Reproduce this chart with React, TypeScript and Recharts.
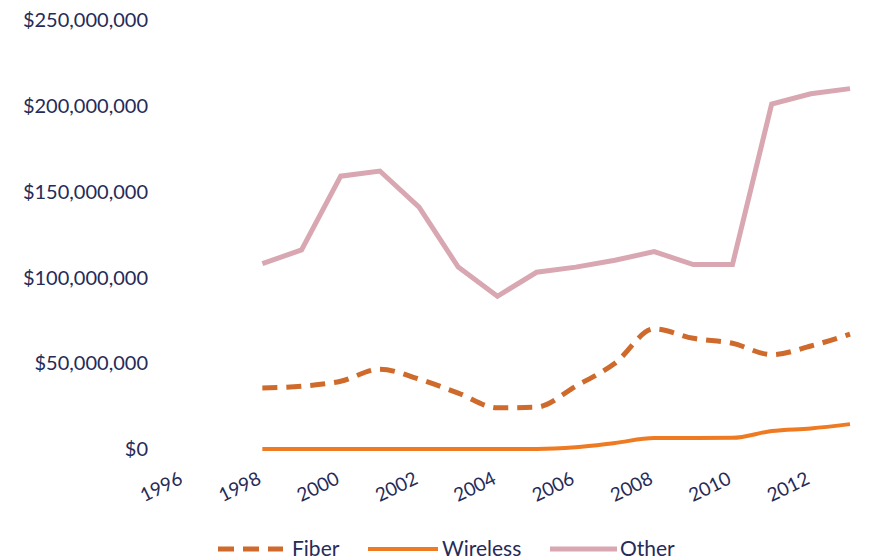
import React from 'react';
import { LineChart, Line, XAxis, YAxis, Legend } from 'recharts';

// Annual investment by technology, 1998–2013 (US dollars)
const years = [1998, 1999, 2000, 2001, 2002, 2003, 2004, 2005, 2006, 2007, 2008, 2009, 2010, 2011, 2012, 2013];
const fiber = [35500000, 36600000, 39500000, 46500000, 40700000, 32600000, 24000000, 24400000, 36600000, 50000000, 70000000, 64500000, 61600000, 55000000, 60000000, 67000000];
const wireless = [0, 0, 0, 0, 0, 0, 0, 0, 1000000, 3500000, 6400000, 6400000, 6500000, 10500000, 12000000, 14500000];
const other = [108000000, 116000000, 159000000, 162000000, 141000000, 106000000, 89000000, 103000000, 106000000, 110000000, 115000000, 107500000, 107500000, 201000000, 207000000, 210000000];

const xTicks = [1996, 1998, 2000, 2002, 2004, 2006, 2008, 2010, 2012];
const yTicks = [0, 50000000, 100000000, 150000000, 200000000, 250000000];
const seriesNames = ['Fiber', 'Wireless', 'Other'];

const data = years.map((year, i) => ({
  year,
  Fiber: fiber[i],
  Wireless: wireless[i],
  Other: other[i],
}));

const FONT = 'Lato, "Open Sans", sans-serif';
const TEXT = '#262b57';

const COLORS: Record<string, string> = {
  Fiber: '#cd6a2c',
  Wireless: '#ee7a22',
  Other: '#d8a7b2',
};

const formatDollar = (v: number) => '$' + v.toLocaleString('en-US');

// Rotated year labels, right end of the baseline sitting under the tick
const YearTick = (props: any) => {
  const { x, y, payload } = props;
  return (
    <g transform={`translate(${x},${y + 26})`}>
      <text
        x={0}
        y={0}
        textAnchor="end"
        transform="rotate(-26)"
        fill={TEXT}
        fontFamily={FONT}
        fontSize={19}
      >
        {payload.value}
      </text>
    </g>
  );
};

// Legend swatches and labels laid out along one row
const legendLayout: Record<string, { icon: number; width: number; text: number; dash?: string; stroke: number }> = {
  Fiber: { icon: 218, width: 65, text: 292, dash: '16 9', stroke: 5 },
  Wireless: { icon: 368, width: 70, text: 442, stroke: 4 },
  Other: { icon: 550, width: 67, text: 620, stroke: 5 },
};

const LegendContent = () => (
  <div style={{ position: 'relative', width: 888, height: 26, fontFamily: FONT, fontSize: 21, color: TEXT }}>
    {seriesNames.map((name) => {
      const l = legendLayout[name];
      return (
        <React.Fragment key={name}>
          <svg width={l.width} height={10} style={{ position: 'absolute', left: l.icon, top: 9 }}>
            <line x1={0} y1={5} x2={l.width} y2={5} stroke={COLORS[name]} strokeWidth={l.stroke} strokeDasharray={l.dash} />
          </svg>
          <span style={{ position: 'absolute', left: l.text, top: 0, lineHeight: '26px' }}>{name}</span>
        </React.Fragment>
      );
    })}
  </div>
);

export default function App() {
  return (
    <div style={{ position: 'absolute', left: 0, top: 0, background: '#fff' }}>
      <LineChart width={888} height={559} data={data} margin={{ top: 20, right: 38, bottom: 0, left: 0 }}>
        <XAxis
          dataKey="year"
          type="number"
          domain={[1996, 2013]}
          ticks={xTicks}
          axisLine={false}
          tickLine={false}
          tick={<YearTick />}
          height={84}
          interval={0}
        />
        <YAxis
          type="number"
          domain={[0, 250000000]}
          ticks={yTicks}
          axisLine={false}
          tickLine={false}
          width={184}
          tickMargin={30}
          tickFormatter={formatDollar}
          tick={{ fill: TEXT, fontFamily: FONT, fontSize: 20 }}
        />
        <Legend verticalAlign="bottom" content={<LegendContent />} wrapperStyle={{ left: 0, bottom: -2, width: 888 }} />
        <Line
          type="monotone"
          dataKey="Fiber"
          stroke={COLORS.Fiber}
          strokeWidth={5}
          strokeDasharray="15 9"
          dot={false}
          isAnimationActive={false}
        />
        <Line
          type="monotone"
          dataKey="Wireless"
          stroke={COLORS.Wireless}
          strokeWidth={4}
          dot={false}
          isAnimationActive={false}
        />
        <Line
          type="linear"
          dataKey="Other"
          stroke={COLORS.Other}
          strokeWidth={5}
          dot={false}
          isAnimationActive={false}
        />
      </LineChart>
    </div>
  );
}
